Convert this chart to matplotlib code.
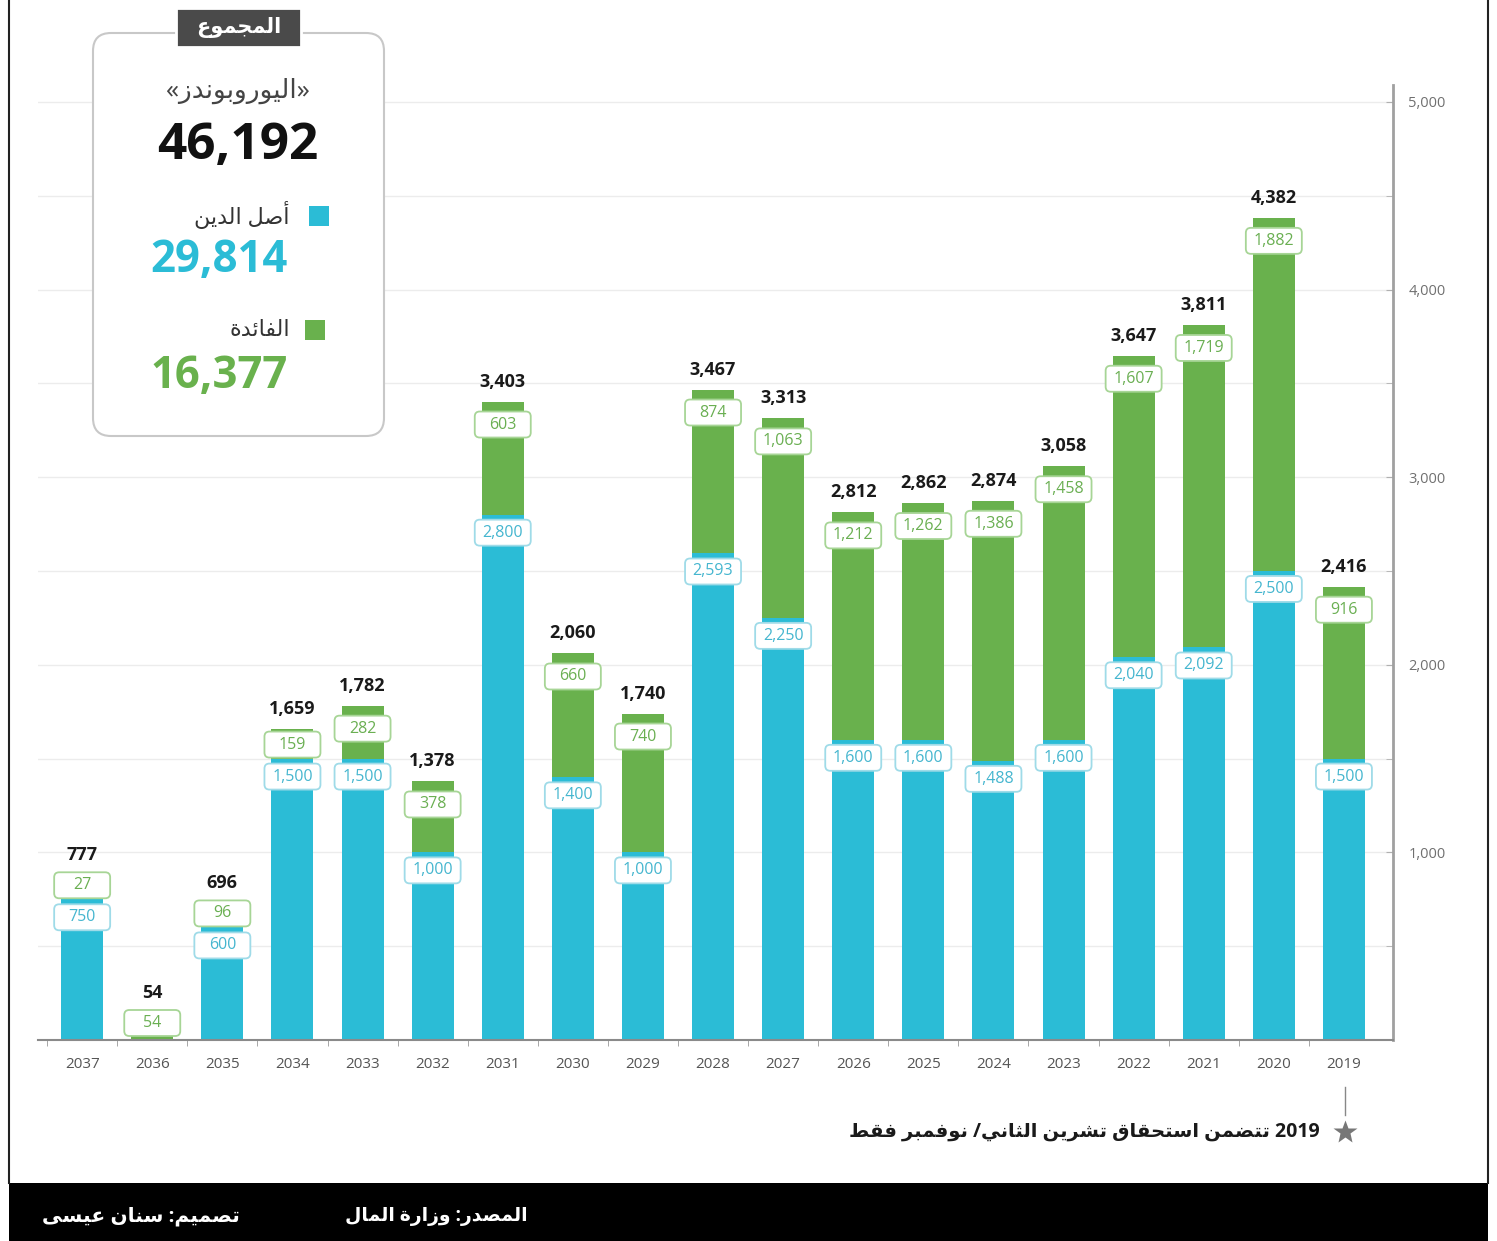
import re
import matplotlib
matplotlib.use("Agg")
import matplotlib.pyplot as plt
from matplotlib.patches import FancyBboxPatch, Rectangle
from matplotlib.ticker import MultipleLocator, FixedLocator, FuncFormatter

# Eurobond maturities (million USD), left to right as in the chart
years = ["2037", "2036", "2035", "2034", "2033", "2032", "2031", "2030", "2029", "2028",
         "2027", "2026", "2025", "2024", "2023", "2022", "2021", "2020", "2019"]
principal = [750, 0, 600, 1500, 1500, 1000, 2800, 1400, 1000, 2593,
             2250, 1600, 1600, 1488, 1600, 2040, 2092, 2500, 1500]
interest = [27, 54, 96, 159, 282, 378, 603, 660, 740, 874,
            1063, 1212, 1262, 1386, 1458, 1607, 1719, 1882, 916]
totals = [777, 54, 696, 1659, 1782, 1378, 3403, 2060, 1740, 3467,
          3313, 2812, 2862, 2874, 3058, 3647, 3811, 4382, 2416]
sum_total = 46192
sum_principal = 29814
sum_interest = 16377

t_header = "المجموع"
t_name = "«اليوروبوندز»"
t_principal = "أصل الدين"
t_interest = "الفائدة"
t_note = "2019 تتضمن استحقاق تشرين الثاني/ نوفمبر فقط"
t_source = "المصدر: وزارة المال"
t_design = "تصميم: سنان عيسى"

BLUE = "#2bbcd6"
GREEN = "#69b14d"

# matplotlib has no arabic shaping, so pick presentation forms by hand
# letter -> (isolated form, joins the following letter)
AR_FORMS = {
    'ا': (0xFE8D, False), 'أ': (0xFE83, False), 'ب': (0xFE8F, True), 'ة': (0xFE93, False),
    'ت': (0xFE95, True), 'ث': (0xFE99, True), 'ج': (0xFE9D, True), 'ح': (0xFEA1, True),
    'د': (0xFEA9, False), 'ر': (0xFEAD, False), 'ز': (0xFEAF, False), 'س': (0xFEB1, True),
    'ش': (0xFEB5, True), 'ص': (0xFEB9, True), 'ض': (0xFEBD, True), 'ط': (0xFEC1, True),
    'ع': (0xFEC9, True), 'ف': (0xFED1, True), 'ق': (0xFED5, True), 'ل': (0xFEDD, True),
    'م': (0xFEE1, True), 'ن': (0xFEE5, True), 'و': (0xFEED, False), 'ى': (0xFEEF, False),
    'ي': (0xFEF1, True), 'ئ': (0xFE89, True),
}
MIRROR = {'«': '»', '»': '«', '(': ')', ')': '('}


def ar(text):
    out = []
    for i, ch in enumerate(text):
        if ch not in AR_FORMS:
            out.append(MIRROR.get(ch, ch))
            continue
        base, dual = AR_FORMS[ch]
        prev = text[i - 1] if i > 0 else ''
        nxt = text[i + 1] if i + 1 < len(text) else ''
        join_prev = prev in AR_FORMS and AR_FORMS[prev][1]
        join_next = dual and nxt in AR_FORMS
        if join_prev and join_next:
            code = base + 3
        elif join_prev:
            code = base + 1
        elif join_next:
            code = base + 2
        else:
            code = base
        out.append(chr(code))
    s = ''.join(reversed(out))
    # numbers stay left to right
    return re.sub(r'[0-9,]+', lambda m: m.group(0)[::-1], s)


plt.rcParams['font.family'] = ['Open Sans', 'DejaVu Sans']

W, H = 1497, 1241
fig = plt.figure(figsize=(W / 100, H / 100), dpi=100)
fig.patch.set_facecolor("white")

# main chart
ax_l, ax_r, ax_t, ax_b = 38, 1393, 85, 1040
ax = fig.add_axes([ax_l / W, (H - ax_b) / H, (ax_r - ax_l) / W, (ax_b - ax_t) / H])
x = list(range(len(years)))
ax.set_xlim(-0.63, 18.7)
ax.set_ylim(0, 5090)

ax.bar(x, principal, width=0.6, color=BLUE, zorder=2)
ax.bar(x, interest, width=0.6, bottom=principal, color=GREEN, zorder=2)

ax.set_axisbelow(True)
ax.yaxis.tick_right()
ax.yaxis.set_major_locator(FixedLocator([1000, 2000, 3000, 4000, 5000]))
ax.yaxis.set_minor_locator(MultipleLocator(500))
ax.yaxis.set_major_formatter(FuncFormatter(lambda v, p: f"{v:,.0f}"))
ax.grid(axis="y", which="both", color="#ececec", lw=1)
ax.tick_params(axis="y", which="both", direction="in", length=5, color="#b0b0b0",
               labelsize=10.5, labelcolor="#707070", pad=11)
ax.set_xticks(x)
ax.set_xticklabels(years)
ax.set_xticks([i + 0.5 for i in x[:-1]] + [-0.5], minor=True)
ax.tick_params(axis="x", which="major", length=0, pad=12, labelsize=11, labelcolor="#555555")
ax.tick_params(axis="x", which="minor", length=4, color="#999999")
for side in ["top", "left"]:
    ax.spines[side].set_visible(False)
ax.spines["bottom"].set_color("#8a8a8a")
ax.spines["bottom"].set_linewidth(1.5)
ax.spines["right"].set_color("#a0a0a0")
ax.spines["right"].set_linewidth(2)

# pixel -> data conversions for label placement
py = 5090 / (ax_b - ax_t)
px = (18.7 + 0.63) / (ax_r - ax_l)
bw, bh = 56 * px, 26 * py


def value_box(xc, yc, txt, edge, col):
    ax.add_patch(FancyBboxPatch((xc - bw / 2, yc - bh / 2), bw, bh,
                                boxstyle=f"round,pad=0,rounding_size={5 * px}",
                                mutation_aspect=py / px, fc="white", ec=edge, lw=1.3, zorder=3))
    ax.text(xc, yc, txt, ha="center", va="center", color=col, fontsize=11.5, zorder=4)


for i in x:
    p_c = principal[i] - 18 * py
    if principal[i] > 0:
        value_box(i, p_c, f"{principal[i]:,}", "#9fdbe8", "#45b6cf")
        lower = p_c + 32 * py
    else:
        lower = 17 * py
    i_c = max(totals[i] - 23 * py, lower)
    value_box(i, i_c, f"{interest[i]:,}", "#a7d596", "#6aaf52")
    t_c = max(totals[i] + 20 * py, i_c + 30 * py)
    ax.text(i, t_c, f"{totals[i]:,}", ha="center", va="center", fontsize=13,
            fontweight="bold", color="#1a1a1a", zorder=4)

# overlay in pixel coordinates for the frame, summary card and footer
ov = fig.add_axes([0, 0, 1, 1], zorder=5)
ov.set_xlim(0, W)
ov.set_ylim(H, 0)
ov.axis("off")
ov.patch.set_alpha(0)

ov.plot([9, 9], [0, 1183], color="#222222", lw=1.5)
ov.plot([1488, 1488], [0, 1183], color="#222222", lw=1.5)
ov.add_patch(Rectangle((9, 1183), 1479, 58, fc="black", ec="none"))
ov.text(528, 1216, ar(t_source), ha="right", va="center", color="white",
        fontsize=13.5, fontweight="bold")
ov.text(240, 1216, ar(t_design), ha="right", va="center", color="white",
        fontsize=14.5, fontweight="bold")

# footnote for 2019
ov.plot([1345, 1345], [1087, 1115], color="#888888", lw=1)
ov.plot([1345], [1132], marker="*", ms=18, color="#777777", mec="none")
ov.text(1320, 1132, ar(t_note), ha="right", va="center", fontsize=14,
        fontweight="bold", color="#1a1a1a")

# summary card
ov.add_patch(FancyBboxPatch((93, 33), 291, 403, boxstyle="round,pad=0,rounding_size=18",
                            fc="white", ec="#c8c8c8", lw=1.5))
ov.add_patch(Rectangle((176, 8), 125, 39, fc="#4a4a4a", ec="white", lw=2))
ov.text(238.5, 27, ar(t_header), ha="center", va="center", color="white",
        fontsize=15, fontweight="bold")
ov.text(238, 91, ar(t_name), ha="center", va="center", color="#444444", fontsize=19)
ov.text(238, 146, f"{sum_total:,}", ha="center", va="center", color="#111111",
        fontsize=37, fontweight="bold")
ov.add_patch(Rectangle((309, 206), 20, 20, fc=BLUE, ec="none"))
ov.text(290, 215, ar(t_principal), ha="right", va="center", color="#333333", fontsize=16)
ov.text(288, 261, f"{sum_principal:,}", ha="right", va="center", color=BLUE,
        fontsize=31.5, fontweight="bold")
ov.add_patch(Rectangle((305, 320), 20, 20, fc=GREEN, ec="none"))
ov.text(290, 330, ar(t_interest), ha="right", va="center", color="#333333", fontsize=16)
ov.text(288, 376, f"{sum_interest:,}", ha="right", va="center", color=GREEN,
        fontsize=31.5, fontweight="bold")

fig.savefig("out.png", dpi=100, facecolor="white")
